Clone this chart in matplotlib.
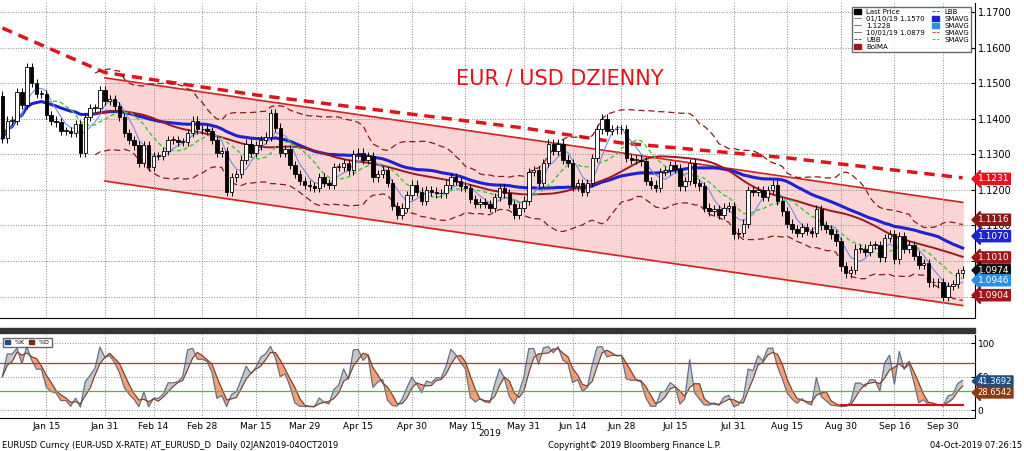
import numpy as np
import pandas as pd
import matplotlib
matplotlib.use("Agg")
import matplotlib.pyplot as plt
from matplotlib.patches import Rectangle
from matplotlib.lines import Line2D

dates = pd.bdate_range("2019-01-02", "2019-10-04")
closes = [1.1345, 1.1395, 1.1395,
 1.1475, 1.1440, 1.1545, 1.1500, 1.1470,
 1.1470, 1.1410, 1.1395, 1.1390, 1.1365,
 1.1365, 1.1360, 1.1385, 1.1305, 1.1405,
 1.1430, 1.1430, 1.1480, 1.1450, 1.1455,
 1.1435, 1.1405, 1.1360, 1.1340, 1.1325,
 1.1275, 1.1325, 1.1265, 1.1295, 1.1295,
 1.1310, 1.1340, 1.1340, 1.1335, 1.1335,
 1.1360, 1.1395, 1.1370, 1.1370, 1.1365,
 1.1340, 1.1305, 1.1310, 1.1195, 1.1235,
 1.1245, 1.1285, 1.1330, 1.1305, 1.1325,
 1.1340, 1.1350, 1.1415, 1.1375, 1.1305,
 1.1315, 1.1270, 1.1245, 1.1225, 1.1215,
 1.1210, 1.1205, 1.1235, 1.1220, 1.1215,
 1.1265, 1.1265, 1.1275, 1.1255, 1.1300,
 1.1305, 1.1285, 1.1295, 1.1235, 1.1245,
 1.1255, 1.1220, 1.1155, 1.1130, 1.1150,
 1.1185, 1.1215, 1.1195, 1.1170, 1.1200,
 1.1195, 1.1190, 1.1190, 1.1215, 1.1235,
 1.1225, 1.1210, 1.1205, 1.1175, 1.1160,
 1.1165, 1.1160, 1.1150, 1.1180, 1.1205,
 1.1190, 1.1160, 1.1130, 1.1150, 1.1170,
 1.1250, 1.1255, 1.1220, 1.1275, 1.1330,
 1.1310, 1.1330, 1.1285, 1.1275, 1.1210,
 1.1220, 1.1195, 1.1220, 1.1290, 1.1370,
 1.1400, 1.1365, 1.1370, 1.1370, 1.1370,
 1.1290, 1.1285, 1.1285, 1.1280, 1.1225,
 1.1215, 1.1205, 1.1250, 1.1255, 1.1270,
 1.1260, 1.1210, 1.1225, 1.1275, 1.1220,
 1.1210, 1.1150, 1.1140, 1.1145, 1.1130,
 1.1150, 1.1155, 1.1075, 1.1080, 1.1105,
 1.1200, 1.1195, 1.1200, 1.1180, 1.1200,
 1.1215, 1.1170, 1.1140, 1.1105, 1.1090,
 1.1080, 1.1095, 1.1085, 1.1080, 1.1145,
 1.1100, 1.1090, 1.1075, 1.1055, 1.0985,
 1.0965, 1.0975, 1.1035, 1.1035, 1.1025,
 1.1045, 1.1045, 1.1010, 1.1065, 1.1075,
 1.1005, 1.1070, 1.1035, 1.1045, 1.1015,
 1.0990, 1.0995, 1.0940, 1.0940, 1.0940,
 1.0900, 1.0930, 1.0935, 1.0965, 1.0974]
first_open = 1.1465

sma200_dates = ["2019-01-02", "2019-01-31", "2019-03-15", "2019-05-31", "2019-06-28", "2019-08-15", "2019-10-04"]
sma200_vals = [1.1655, 1.1530, 1.1467, 1.1374, 1.1332, 1.1290, 1.1234]

channel_dates = ["2019-01-31", "2019-10-04"]
channel_upper = [1.1515, 1.1165]
channel_lower = [1.1225, 1.0875]

tick_labels = ["Jan 15", "Jan 31", "Feb 14", "Feb 28", "Mar 15", "Mar 29", "Apr 15", "Apr 30",
               "May 15", "May 31", "Jun 14", "Jun 28", "Jul 15", "Jul 31", "Aug 15", "Aug 30",
               "Sep 16", "Sep 30"]

right_labels = [(1.1231, "1.1231", "#e8141b"), (1.1116, "1.1116", "#8b1a1a"), (1.1070, "1.1070", "#1f22d0"),
                (1.1010, "1.1010", "#a0161d"), (1.0974, "1.0974", "#111111"), (1.0946, "1.0946", "#2a8fe0"),
                (1.0904, "1.0904", "#a0161d")]

c = pd.Series(closes)
o = pd.Series([first_open] + closes[:-1])
n = len(c)
x = np.arange(n)
idx = {d: i for i, d in enumerate(dates)}
def pos(s):
    return idx[pd.Timestamp(s)]

sma5 = c.rolling(5, min_periods=1).mean()
sma10 = c.rolling(10).mean()
sma20 = c.rolling(20).mean()
sd20 = c.rolling(20).std()
sma50 = c.rolling(20).mean().rolling(10, min_periods=1).mean()
sma100 = c.rolling(40, min_periods=1).mean()

fig = plt.figure(figsize=(10.24, 4.51), dpi=100)
ax = fig.add_axes([0.0, 0.295, 0.952, 0.698])
ax2 = fig.add_axes([0.0, 0.073, 0.952, 0.184])
for a in (ax, ax2):
    a.set_xlim(-0.5, 199.5)
    a.yaxis.tick_right()
    a.tick_params(axis="y", labelsize=7, length=3, direction="in", pad=2)
    a.grid(True, color="#888888", linestyle=":", linewidth=0.7)
    for s in ["top", "left"]:
        a.spines[s].set_visible(False)
ax.set_ylim(1.084, 1.1725)
ax.set_yticks(np.arange(1.09, 1.171, 0.01))
ax.set_yticklabels([f"{v:.4f}" for v in np.arange(1.09, 1.171, 0.01)])
tpos = [pos(pd.Timestamp(f"2019 {t}")) for t in tick_labels]
for a in (ax, ax2):
    a.set_xticks(tpos)
ax.set_xticklabels([])
ax2.set_xticklabels(tick_labels, fontsize=6.5)
ax2.tick_params(axis="x", length=0, pad=3)
ax.tick_params(axis="x", length=0)

cx = [pos(d) for d in channel_dates]
ax.fill_between(cx, channel_lower, channel_upper, color="#fbd0d0", alpha=0.9, zorder=0)
ax.plot(cx, channel_upper, color="#d42020", lw=1.2, zorder=1)
ax.plot(cx, channel_lower, color="#d42020", lw=1.2, zorder=1)

ax.plot([pos(d) for d in sma200_dates], sma200_vals, color="#e0141b", lw=2.5, ls=(0, (3, 2)), zorder=3)
ax.plot(x, sma20 + 2 * sd20, color="#8b1a1a", lw=0.9, ls=(0, (5, 3)), zorder=3)
ax.plot(x, sma20 - 2 * sd20, color="#8b1a1a", lw=0.9, ls=(0, (5, 3)), zorder=3)
ax.plot(x, sma100, color="#1f22d0", lw=2.2, zorder=4)
ax.plot(x, sma50, color="#a0161d", lw=1.4, zorder=4)
ax.plot(x, sma10, color="#33cc33", lw=1.0, ls=(0, (3, 2)), zorder=4)
ax.plot(x, sma5, color="#6f8fe0", lw=0.8, zorder=4)

w = 0.0012
for i in range(n):
    lo, hi = min(o[i], c[i]), max(o[i], c[i])
    ax.vlines(i, lo - w, hi + w, color="black", lw=0.7, zorder=5)
    up = c[i] >= o[i]
    ax.add_patch(Rectangle((i - 0.35, lo), 0.7, max(hi - lo, 0.0002),
                 facecolor="white" if up else "black", edgecolor="black", lw=0.6, zorder=6))

ax.text(560, 372, "EUR / USD DZIENNY", transform=None, color="#e0141b", fontsize=15,
        ha="center", va="center")
for v, t, col in right_labels:
    ax.annotate(t, xy=(1.003, v), xycoords=("axes fraction", "data"), fontsize=6.5, color="white",
                va="center", ha="left", annotation_clip=False,
                bbox=dict(boxstyle="larrow,pad=0.12", fc=col, ec=col))

handles = [Rectangle((0, 0), 1, 1, color="black"), Line2D([], [], color="#666", lw=0.6),
           Line2D([], [], color="#666", lw=0.6), Line2D([], [], color="#666", lw=0.6),
           Line2D([], [], color="#8b1a1a", ls="--", lw=0.6), Rectangle((0, 0), 1, 1, color="#a0161d"),
           Line2D([], [], color="#8b1a1a", ls="--", lw=0.6), Rectangle((0, 0), 1, 1, color="#1f22d0"),
           Rectangle((0, 0), 1, 1, color="#2a8fe0"), Line2D([], [], color="#e0141b", ls="--", lw=0.6),
           Line2D([], [], color="#33cc33", ls="--", lw=0.6)]
labels = ["Last Price", "01/10/19 1.1570", "1.1228", "10/01/19 1.0879", "UBB", "BolMA",
          "LBB", "SMAVG", "SMAVG", "SMAVG", "SMAVG"]
ax.legend(handles, labels, loc="upper right", ncol=2, fontsize=5, frameon=True,
          handlelength=1, handleheight=0.7, labelspacing=0.15, columnspacing=1.0,
          borderpad=0.3, fancybox=False, edgecolor="#444")

hh = c.rolling(14, min_periods=1).max() + w
ll = c.rolling(14, min_periods=1).min() - w
k = (c - ll) / (hh - ll) * 100
d = k.rolling(3, min_periods=1).mean()
ax2.set_ylim(-12, 112)
ax2.set_yticks([0, 50, 100])
ax2.set_yticklabels(["0", "50", "100"], fontsize=6.5)
ax2.fill_between(x, k, d, where=k >= d, color="#c8c8c8", interpolate=True)
ax2.fill_between(x, k, d, where=k < d, color="#f5a078", interpolate=True)
ax2.plot(x, k, color="#5a7090", lw=0.8)
ax2.plot(x, d, color="#7a4030", lw=0.8)
ax2.axhline(70, color="#c0303a", lw=0.9)
ax2.axhline(28, color="#40c040", lw=0.9)
ax2.plot([pos("2019-08-30"), n - 1], [8, 8], color="#d01020", lw=1.5)
for v, t, col in [(43, "41.3692", "#1f4f80"), (26, "28.6542", "#8b3a10")]:
    ax2.annotate(t, xy=(1.003, v), xycoords=("axes fraction", "data"), fontsize=6, color="white",
                 va="center", ha="left", annotation_clip=False,
                 bbox=dict(boxstyle="larrow,pad=0.1", fc=col, ec=col))
ax2.legend([Rectangle((0, 0), 1, 1, color="#1f4f80"), Rectangle((0, 0), 1, 1, color="#7a2a10")],
           ["%K", "%D"], loc="upper left", ncol=2, fontsize=4.5, handlelength=0.8,
           columnspacing=0.6, borderpad=0.3, fancybox=False, edgecolor="#444")

fig.patches.append(Rectangle((0, 1 - 333 / 451), 0.952, 5 / 451, transform=fig.transFigure,
                             color="#333333"))
fig.text(0.478, 1 - 434 / 451, "2019", fontsize=6.5, ha="center", va="center")
fig.text(0.002, 1 - 445 / 451, "EURUSD Curncy (EUR-USD X-RATE) AT_EURUSD_D  Daily 02JAN2019-04OCT2019",
         fontsize=6, ha="left", va="center")
fig.text(0.62, 1 - 445 / 451, "Copyright\u00a9 2019 Bloomberg Finance L.P.", fontsize=6, ha="center", va="center")
fig.text(0.998, 1 - 445 / 451, "04-Oct-2019 07:26:15", fontsize=6, ha="right", va="center")

fig.savefig("out.png", dpi=100)
